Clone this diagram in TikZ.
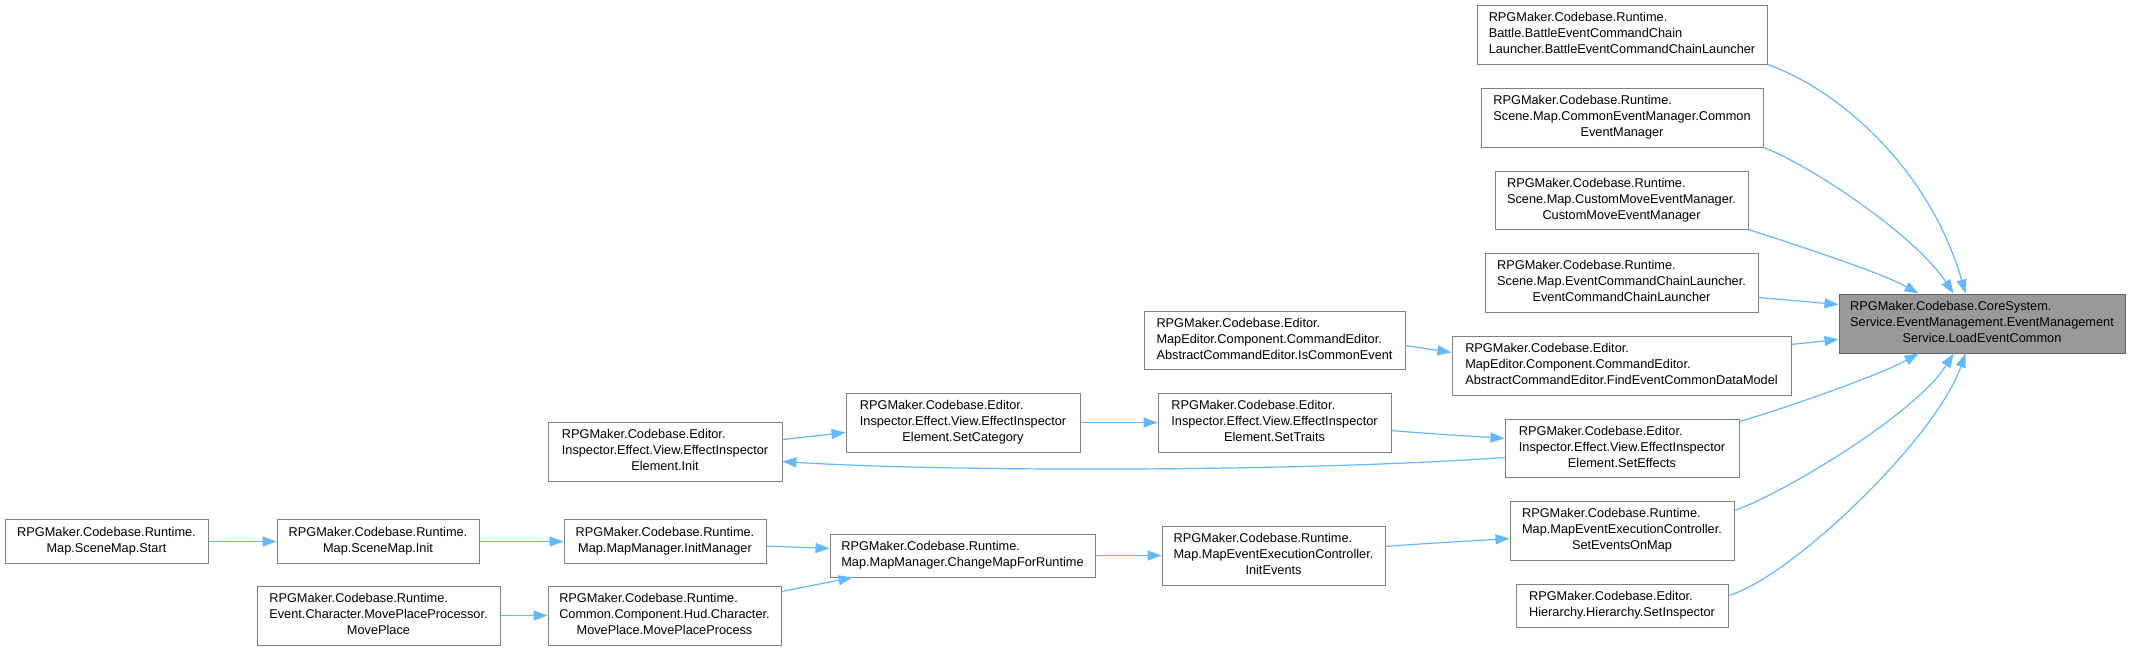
\documentclass[tikz,border=0pt]{standalone}
\usepackage{fontspec}
\setmainfont{Liberation Sans}
\usetikzlibrary{arrows.meta,calc}
\definecolor{edgeblue}{HTML}{63B8FF}
\definecolor{boxline}{HTML}{7F7F7F}
\definecolor{mainline}{HTML}{666666}
\definecolor{mainfill}{HTML}{999999}
\newcommand{\lastln}[1]{\multicolumn{1}{@{}c@{}}{#1}}
\newcommand{\lbl}[1]{\begin{tabular}{@{}l@{}}#1\end{tabular}}
\tikzset{
  box/.style={draw=boxline, fill=white, line width=1pt, inner sep=0pt,
    font=\fontsize{12.75}{16}\selectfont},
  mainbox/.style={box, draw=mainline, fill=mainfill},
  edge/.style={draw=edgeblue, line width=1.2pt, -{Triangle[length=14pt,width=10pt]}}
}
\begin{document}
\begin{tikzpicture}[x=1pt,y=-1pt]
\fill[white] (0,0) rectangle (2130,651);
\useasboundingbox (0,0) rectangle (2130,651);

% nodes
\node[box, minimum width=290, minimum height=59] (battle) at (1622,34.5)
  {\lbl{RPGMaker.Codebase.Runtime.\\Battle.BattleEventCommandChain\\\lastln{Launcher.BattleEventCommandChainLauncher}}};
\node[box, minimum width=282, minimum height=59] (cem) at (1622,117.5)
  {\lbl{RPGMaker.Codebase.Runtime.\\Scene.Map.CommonEventManager.Common\\\lastln{EventManager}}};
\node[box, minimum width=253, minimum height=58] (cmem) at (1621.5,200)
  {\lbl{RPGMaker.Codebase.Runtime.\\Scene.Map.CustomMoveEventManager.\\\lastln{CustomMoveEventManager}}};
\node[box, minimum width=273, minimum height=59] (eccl) at (1621.5,282.5)
  {\lbl{RPGMaker.Codebase.Runtime.\\Scene.Map.EventCommandChainLauncher.\\\lastln{EventCommandChainLauncher}}};
\node[mainbox, minimum width=286, minimum height=59] (main) at (1982,323.5)
  {\lbl{RPGMaker.Codebase.CoreSystem.\\Service.EventManagement.EventManagement\\\lastln{Service.LoadEventCommon}}};
\node[box, minimum width=339, minimum height=59] (find) at (1621.5,365.5)
  {\lbl{RPGMaker.Codebase.Editor.\\MapEditor.Component.CommandEditor.\\\lastln{AbstractCommandEditor.FindEventCommonDataModel}}};
\node[box, minimum width=261, minimum height=58] (iscommon) at (1274.5,340)
  {\lbl{RPGMaker.Codebase.Editor.\\MapEditor.Component.CommandEditor.\\\lastln{AbstractCommandEditor.IsCommonEvent}}};
\node[box, minimum width=234, minimum height=58] (seteffects) at (1622,448)
  {\lbl{RPGMaker.Codebase.Editor.\\Inspector.Effect.View.EffectInspector\\\lastln{Element.SetEffects}}};
\node[box, minimum width=233, minimum height=59] (settraits) at (1274.5,422.5)
  {\lbl{RPGMaker.Codebase.Editor.\\Inspector.Effect.View.EffectInspector\\\lastln{Element.SetTraits}}};
\node[box, minimum width=234, minimum height=59] (setcat) at (963,422.5)
  {\lbl{RPGMaker.Codebase.Editor.\\Inspector.Effect.View.EffectInspector\\\lastln{Element.SetCategory}}};
\node[box, minimum width=234, minimum height=59] (init) at (665,451.5)
  {\lbl{RPGMaker.Codebase.Editor.\\Inspector.Effect.View.EffectInspector\\\lastln{Element.Init}}};
\node[box, minimum width=224, minimum height=59] (seteom) at (1622,530.5)
  {\lbl{RPGMaker.Codebase.Runtime.\\Map.MapEventExecutionController.\\\lastln{SetEventsOnMap}}};
\node[box, minimum width=212, minimum height=43] (setinsp) at (1622,605.5)
  {\lbl{RPGMaker.Codebase.Editor.\\\lastln{Hierarchy.Hierarchy.SetInspector}}};
\node[box, minimum width=223, minimum height=59] (initevents) at (1273.5,555.5)
  {\lbl{RPGMaker.Codebase.Runtime.\\Map.MapEventExecutionController.\\\lastln{InitEvents}}};
\node[box, minimum width=265, minimum height=43] (changemap) at (962.5,555.5)
  {\lbl{RPGMaker.Codebase.Runtime.\\\lastln{Map.MapManager.ChangeMapForRuntime}}};
\node[box, minimum width=202, minimum height=44] (initmgr) at (665,541.5)
  {\lbl{RPGMaker.Codebase.Runtime.\\\lastln{Map.MapManager.InitManager}}};
\node[box, minimum width=202, minimum height=44] (sminit) at (378,541.5)
  {\lbl{RPGMaker.Codebase.Runtime.\\\lastln{Map.SceneMap.Init}}};
\node[box, minimum width=203, minimum height=44] (smstart) at (106.5,541.5)
  {\lbl{RPGMaker.Codebase.Runtime.\\\lastln{Map.SceneMap.Start}}};
\node[box, minimum width=243, minimum height=59] (moveplace) at (378.5,615.5)
  {\lbl{RPGMaker.Codebase.Runtime.\\Event.Character.MovePlaceProcessor.\\\lastln{MovePlace}}};
\node[box, minimum width=233, minimum height=59] (mpp) at (664.5,615.5)
  {\lbl{RPGMaker.Codebase.Runtime.\\Common.Component.Hud.Character.\\\lastln{MovePlace.MovePlaceProcess}}};

% edges into main
\draw[edge] (battle.south east) .. controls (1840,90) and (1930,170) .. ($(main.north west)+(127,0)$);
\draw[edge] (cem.south east) .. controls (1810,165) and (1915,235) .. ($(main.north west)+(115,0)$);
\draw[edge] (cmem.south east) .. controls (1790,243) and (1880,272) .. ($(main.north west)+(80,0)$);
\draw[edge] ($(eccl.north east)+(0,45)$) -- ($(main.north west)+(0,11)$);
\draw[edge] ($(find.north west)+(339,9)$) -- ($(main.north west)+(0,46)$);
\draw[edge] ($(seteffects.north east)+(0,3)$) .. controls (1780,410) and (1880,375) .. ($(main.south west)+(80,0)$);
\draw[edge] ($(seteom.north east)+(0,10)$) .. controls (1780,495) and (1915,415) .. ($(main.south west)+(115,0)$);
\draw[edge] ($(setinsp.north east)+(0,12)$) .. controls (1790,578) and (1935,440) .. ($(main.south west)+(127,0)$);

% other edges
\draw[edge] ($(iscommon.north east)+(0,35)$) -- ($(find.north west)+(0,17)$);
\draw[edge] ($(settraits.north east)+(0,38)$) .. controls (1430,434) and (1470,436) .. ($(seteffects.north west)+(0,20)$);
\draw[edge] ($(seteffects.north west)+(0,39)$) .. controls (1300,472) and (950,472) .. ($(init.north east)+(0,40)$);
\draw[edge] ($(init.north east)+(0,18)$) -- ($(setcat.north west)+(0,40)$);
\draw[edge] (setcat.east) -- (settraits.west);
\draw[edge] (smstart.east) -- (sminit.west);
\draw[edge] (sminit.east) -- (initmgr.west);
\draw[edge] ($(initmgr.north east)+(0,27)$) -- ($(changemap.north west)+(0,15)$);
\draw[edge] ($(mpp.north east)+(0,6)$) -- ($(changemap.south west)+(23,0)$);
\draw[edge] (moveplace.east) -- (mpp.west);
\draw[edge] (changemap.east) -- (initevents.west);
\draw[edge] ($(initevents.north east)+(0,21)$) .. controls (1430,543) and (1470,541) .. ($(seteom.north west)+(0,38)$);
\end{tikzpicture}
\end{document}
